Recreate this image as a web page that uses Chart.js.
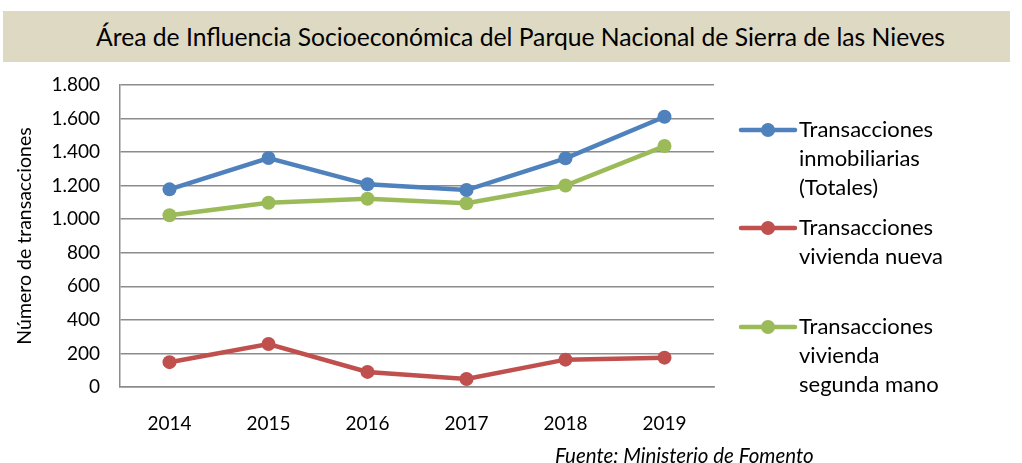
<!DOCTYPE html>
<html>
<head>
<meta charset="utf-8">
<script src="https://cdn.jsdelivr.net/npm/chart.js@4/dist/chart.umd.min.js"></script>
<style>
  body { margin: 0; background: #fff; width: 1022px; height: 463px; overflow: hidden; position: relative; font-family: Lato, sans-serif; }
  #wrap { position: absolute; left: 0; top: 0; width: 1022px; height: 463px; }
  #banner { position: absolute; left: 3px; top: 11px; width: 979px; padding-left: 28px; height: 51px; background: #ddd9c3;
            display: flex; align-items: center; justify-content: center; font-size: 24.7px; color: #000; z-index: 2; }
  #source { position: absolute; left: 555px; top: 443px; font-style: italic; font-size: 20.5px; color: #000; }
</style>
</head>
<body>
<div id="wrap"><canvas id="chart" width="1022" height="463"></canvas></div>
<div id="banner">Área de Influencia Socioeconómica del Parque Nacional de Sierra de las Nieves</div>
<div id="source">Fuente: Ministerio de Fomento</div>
<script>
// --- Data ---
const YEARS = ["2014", "2015", "2016", "2017", "2018", "2019"];
const TOTAL = [1178, 1365, 1208, 1174, 1363, 1611];
const NEW_HOMES = [148, 256, 90, 48, 163, 175];
const SECOND_HAND = [1024, 1098, 1122, 1095, 1201, 1436];
const Y_TICKS = [0, 200, 400, 600, 800, 1000, 1200, 1400, 1600, 1800];
const SERIES_NAMES = [
  ["Transacciones", "inmobiliarias", "(Totales)"],
  ["Transacciones", "vivienda nueva"],
  ["Transacciones", "vivienda", "segunda mano"]
];
const Y_TITLE = "Número de transacciones";

const COLORS = ["#4f81bd", "#c0504d", "#9bbb59"];
const FONT = "Lato, sans-serif";

function fmt(v) {
  return String(v).replace(/\B(?=(\d{3})+(?!\d))/g, ".");
}

// wrapped legend on the right, drawn from the dataset colours
const sideLegend = {
  id: "sideLegend",
  afterDraw(chart) {
    const ctx = chart.ctx;
    const tops = [130, 228, 327];
    ctx.save();
    chart.data.datasets.forEach((ds, i) => {
      const y = tops[i];
      ctx.strokeStyle = ds.borderColor;
      ctx.lineWidth = 4.5;
      ctx.lineCap = "round";
      ctx.beginPath();
      ctx.moveTo(741, y);
      ctx.lineTo(795, y);
      ctx.stroke();
      ctx.fillStyle = ds.borderColor;
      ctx.beginPath();
      ctx.arc(768, y, 7, 0, Math.PI * 2);
      ctx.fill();
      ctx.fillStyle = "#000";
      ctx.font = "22px " + FONT;
      ctx.textBaseline = "middle";
      ctx.textAlign = "left";
      SERIES_NAMES[i].forEach((line, k) => ctx.fillText(line, 799, y + k * 29));
    });
    ctx.restore();
  }
};

const series = [TOTAL, NEW_HOMES, SECOND_HAND];

new Chart(document.getElementById("chart"), {
  type: "line",
  data: {
    labels: YEARS,
    datasets: series.map((d, i) => ({
      label: SERIES_NAMES[i].join(" "),
      data: d,
      borderColor: COLORS[i],
      backgroundColor: COLORS[i],
      pointBackgroundColor: COLORS[i],
      pointBorderWidth: 0,
      pointRadius: 7,
      borderWidth: 4.5,
      tension: 0
    }))
  },
  options: {
    responsive: false,
    animation: false,
    layout: { padding: { top: 85, left: 0, right: 308, bottom: 0 } },
    plugins: {
      legend: { display: false },
      tooltip: { enabled: false }
    },
    scales: {
      x: {
        offset: true,
        grid: { display: false },
        border: { color: "#8c8c8c", width: 1.5 },
        ticks: { color: "#000", font: { family: FONT, size: 19 }, padding: 17 },
        afterFit: s => { s.height = 76; }
      },
      y: {
        min: 0,
        max: 1800,
        afterBuildTicks: s => { s.ticks = Y_TICKS.map(v => ({ value: v })); },
        grid: { color: "#8c8c8c", lineWidth: 1.5, drawTicks: false },
        border: { color: "#8c8c8c", width: 1.5 },
        ticks: { color: "#000", font: { family: FONT, size: 19 }, padding: 20, callback: v => fmt(v) },
        title: { display: true, text: Y_TITLE, color: "#000", font: { family: FONT, size: 19.5 }, padding: { top: 13, bottom: 0 } },
        afterFit: s => { s.width = 120; }
      }
    }
  },
  plugins: [sideLegend]
});
</script>
</body>
</html>
